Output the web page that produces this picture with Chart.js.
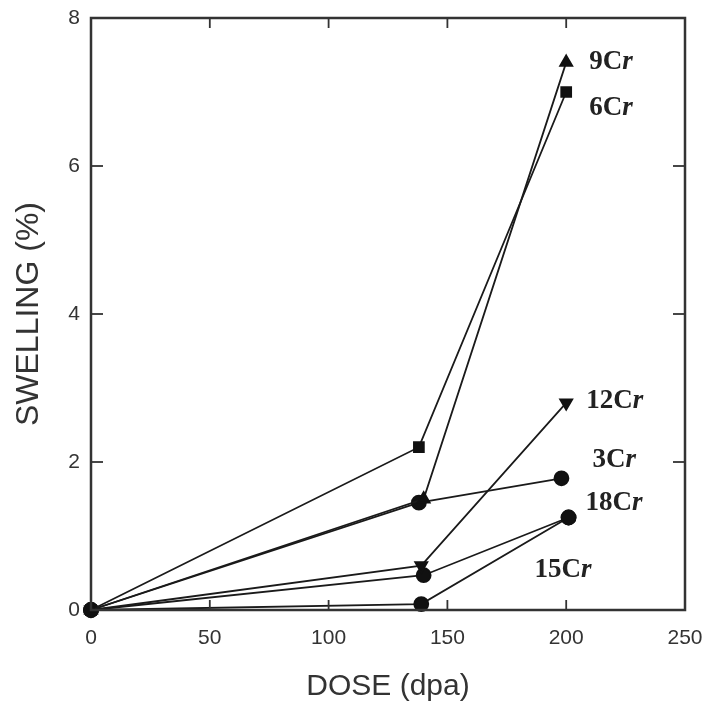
<!DOCTYPE html>
<html><head><meta charset="utf-8">
<script src="https://cdn.jsdelivr.net/npm/chart.js@4/dist/chart.umd.min.js"></script>
<style>html,body{margin:0;padding:0;background:#fff}#wrap{width:712px;height:715px}</style>
</head><body><div id="wrap"><canvas id="c" width="712" height="715"></canvas></div>
<script>
const seriesNames = ['9Cr','6Cr','12Cr','3Cr','18Cr','15Cr'];
const dose9Cr = [0, 140, 200];  const swell9Cr = [0, 1.5, 7.4];
const dose6Cr = [0, 138, 200];  const swell6Cr = [0, 2.2, 7.0];
const dose12Cr = [0, 139, 200]; const swell12Cr = [0, 0.6, 2.8];
const dose3Cr = [0, 138, 198];  const swell3Cr = [0, 1.45, 1.78];
const dose18Cr = [0, 140, 201]; const swell18Cr = [0, 0.47, 1.25];
const dose15Cr = [0, 139, 201]; const swell15Cr = [0, 0.08, 1.25];
const xTicks = [0, 50, 100, 150, 200, 250];
const yTicks = [0, 2, 4, 6, 8];

function pts(xs, ys){ return xs.map((x,i)=>({x:x,y:ys[i]})); }
const styles = {
  '9Cr':{pointStyle:'triangle',rot:0,r:7},
  '6Cr':{pointStyle:'rect',rot:0,r:7},
  '12Cr':{pointStyle:'triangle',rot:180,r:7},
  '3Cr':{pointStyle:'circle',rot:0,r:7},
  '18Cr':{pointStyle:'circle',rot:0,r:7},
  '15Cr':{pointStyle:'circle',rot:0,r:7}
};
const dataMap = {
  '9Cr':pts(dose9Cr,swell9Cr),'6Cr':pts(dose6Cr,swell6Cr),'12Cr':pts(dose12Cr,swell12Cr),
  '3Cr':pts(dose3Cr,swell3Cr),'18Cr':pts(dose18Cr,swell18Cr),'15Cr':pts(dose15Cr,swell15Cr)
};
const datasets = seriesNames.map(n=>({
  label:n, data:dataMap[n], showLine:true, borderColor:'#1a1a1a', borderWidth:1.8,
  backgroundColor:'#111', pointBackgroundColor:'#111', pointBorderColor:'#111',
  pointStyle:styles[n].pointStyle, rotation:styles[n].rot, pointRadius:styles[n].r, clip:false
}));
// label offsets relative to the last point of each series (pixels)
const labelOffsets = {'9Cr':[23,0],'6Cr':[23,16],'12Cr':[20,-2],'3Cr':[31,-18],'18Cr':[17,-14],'15Cr':[-34,53]};

const framePlugin = {
  id:'frame',
  afterDraw(chart){
    const {ctx, chartArea:a, scales:{x,y}} = chart;
    ctx.save();
    ctx.strokeStyle='#333'; ctx.lineWidth=2.5;
    ctx.strokeRect(a.left, a.top, a.right-a.left, a.bottom-a.top);
    ctx.lineWidth=1.8;
    xTicks.forEach(t=>{ if(t===0||t===250) return; const px=x.getPixelForValue(t);
      ctx.beginPath(); ctx.moveTo(px,a.bottom); ctx.lineTo(px,a.bottom-10); ctx.stroke();
      ctx.beginPath(); ctx.moveTo(px,a.top); ctx.lineTo(px,a.top+10); ctx.stroke(); });
    yTicks.forEach(t=>{ if(t===0||t===8) return; const py=y.getPixelForValue(t);
      ctx.beginPath(); ctx.moveTo(a.left,py); ctx.lineTo(a.left+12,py); ctx.stroke();
      ctx.beginPath(); ctx.moveTo(a.right,py); ctx.lineTo(a.right-12,py); ctx.stroke(); });
    ctx.fillStyle='#222'; ctx.textBaseline='middle'; ctx.textAlign='left';
    const f1='bold 27px "Liberation Serif"', f2='bold italic 27px "Liberation Serif"';
    seriesNames.forEach(n=>{ const d=dataMap[n][dataMap[n].length-1];
      const px=x.getPixelForValue(d.x)+labelOffsets[n][0], py=y.getPixelForValue(d.y)+labelOffsets[n][1];
      const head=n.replace('Cr','C');
      ctx.font=f1; ctx.fillText(head, px, py);
      const w=ctx.measureText(head).width;
      ctx.font=f2; ctx.fillText('r', px+w, py); });
    ctx.restore();
  }
};

new Chart(document.getElementById('c'), {
  type:'scatter',
  data:{datasets},
  options:{
    responsive:false, animation:false,
    layout:{padding:{left:0,top:18,right:27,bottom:0}},
    plugins:{legend:{display:false},tooltip:{enabled:false}},
    scales:{
      x:{type:'linear',min:0,max:250,
        afterBuildTicks(s){ s.ticks = xTicks.map(v=>({value:v})); },
        afterFit(s){ s.height=105; s.paddingLeft=0; s.paddingRight=0; },
        grid:{display:false}, border:{display:false},
        ticks:{color:'#333',font:{family:'Liberation Sans',size:21},padding:8,maxRotation:0},
        title:{display:true,text:'DOSE (dpa)',color:'#333',font:{family:'Liberation Sans',size:30},padding:{top:4,bottom:10}}
      },
      y:{type:'linear',min:0,max:8,
        afterBuildTicks(s){ s.ticks = yTicks.map(v=>({value:v})); },
        afterFit(s){ s.width=91; s.paddingTop=0; s.paddingBottom=0; },
        grid:{display:false}, border:{display:false},
        ticks:{color:'#333',font:{family:'Liberation Sans',size:21},padding:3},
        title:{display:true,text:'SWELLING (%)',color:'#333',font:{family:'Liberation Sans',size:32},padding:{top:10,bottom:0}}
      }
    }
  },
  plugins:[framePlugin]
});
</script></body></html>
